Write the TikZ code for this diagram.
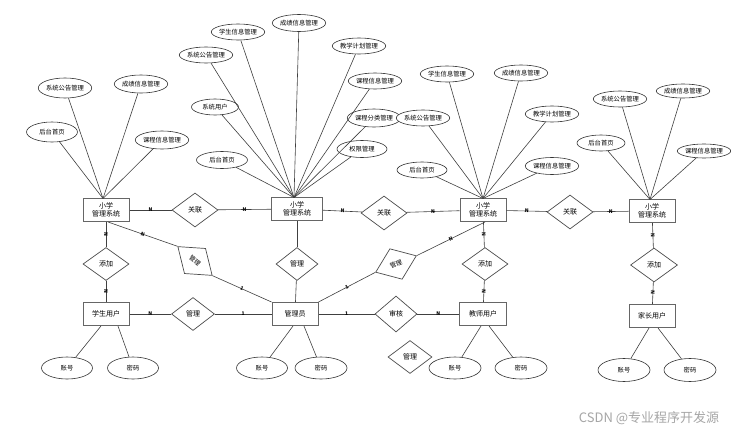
\documentclass[tikz,border=0pt]{standalone}
\usepackage{fontspec}
\setmainfont{Noto Sans CJK SC}
\usetikzlibrary{shapes.geometric,calc}
\begin{document}
\begin{tikzpicture}[x=1pt,y=-1pt,
 ent/.style={draw=black!60,line width=1pt,fill=white,minimum width=46pt,minimum height=23pt,inner sep=0pt,align=center,font=\fontsize{7}{8.5}\selectfont},
 rel/.style={diamond,draw=black!70,line width=0.7pt,fill=white,minimum width=44pt,minimum height=34pt,inner sep=0pt,font=\fontsize{7}{8}\selectfont},
 attr/.style={ellipse,draw=black!80,line width=0.6pt,fill=white,minimum width=48pt,minimum height=16pt,inner sep=0pt,font=\fontsize{6.3}{7}\selectfont},
 bigattr/.style={attr,minimum width=51pt,minimum height=20pt},
 ln/.style={draw=black!75,line width=0.6pt},
 card/.style={font=\fontsize{5}{5}\selectfont\bfseries,inner sep=0.3pt,sloped},
]
\fill[white] (0,0) rectangle (731,431);
\useasboundingbox (0,0) rectangle (731,431);

% entities
\node[ent] (S1) at (106,210) {小学\\管理系统};
\node[ent,minimum width=51pt] (S2) at (297,209) {小学\\管理系统};
\node[ent] (S3) at (483,210) {小学\\管理系统};
\node[ent] (S4) at (652,211) {小学\\管理系统};
\node[ent] (U1) at (106,314) {学生用户};
\node[ent] (AD) at (295,314) {管理员};
\node[ent,minimum width=47pt] (TU) at (483,314) {教师用户};
\node[ent] (PU) at (652,316) {家长用户};

% relations
\node[rel,minimum width=46pt] (R1) at (195,210) {关联};
\node[rel,minimum width=46pt] (R2) at (384,213) {关联};
\node[rel,minimum width=46pt] (R3) at (570,212) {关联};
\node[rel,minimum width=46pt,minimum height=33pt] (ADD1) at (106,264) {添加};
\node[rel,minimum width=42pt,minimum height=33pt] (M2) at (297,264) {管理};
\node[rel,minimum width=46pt,minimum height=33pt] (ADD2) at (485,264) {添加};
\node[rel,minimum width=47pt,minimum height=34pt] (ADD3) at (654,265) {添加};
\node[rel,minimum width=43pt,minimum height=33pt] (M1) at (193,314) {管理};
\node[rel,minimum width=42pt,minimum height=36pt] (SH) at (396,314) {审核};
\node[rel,minimum width=44pt,minimum height=33pt] (ML) at (410,357) {管理};
\node[rel,minimum width=45pt,minimum height=33pt,rotate=-40,font=\fontsize{6.3}{7}\selectfont] (RT1) at (195,261) {管理};
\node[rel,minimum width=44pt,minimum height=33pt,rotate=22,font=\fontsize{6.3}{7}\selectfont] (RT2) at (396,264) {管理};

% relation connectors
\draw[ln] (S1) -- node[card]{N} (R1);
\draw[ln] (R1) -- node[card]{N} (S2);
\draw[ln] (S2) -- node[card]{N} (R2);
\draw[ln] (R2) -- node[card]{N} (S3);
\draw[ln] (S3) -- node[card]{N} (R3);
\draw[ln] (R3) -- node[card]{N} (S4);
\draw[ln] (S1) -- node[card]{N} (ADD1);
\draw[ln] (ADD1) -- node[card]{N} (U1);
\draw[ln] (S2) -- (M2);
\draw[ln] (M2) -- (AD);
\draw[ln] (S3) -- node[card]{N} (ADD2);
\draw[ln] (ADD2) -- node[card]{N} (TU);
\draw[ln] (S4) -- node[card]{N} (ADD3);
\draw[ln] (ADD3) -- node[card]{N} (PU);
\draw[ln] (U1) -- node[card]{N} (M1);
\draw[ln] (M1) -- node[card]{1} (AD);
\draw[ln] (AD) -- node[card]{1} (SH);
\draw[ln] (SH) -- node[card]{N} (TU);
\draw[ln] ($(S1.south)+(2,0)$) -- node[card]{N} (RT1.west);
\draw[ln] (RT1.east) -- node[card]{1} (AD.north west);
\draw[ln] (AD.north east) -- node[card]{1} (RT2.west);
\draw[ln] (RT2.east) -- node[card]{N} ($(S3.south)+(2,0)$);

% attribute fan targets
\coordinate (F1) at (103,198.5);
\coordinate (F2) at (294,197.5);
\coordinate (F3) at (483,198.5);
\coordinate (F4) at (650,199.5);

% S1 attributes
\node[bigattr] (a11) at (52,132) {后台首页};
\node[bigattr] (a12) at (65,88) {系统公告管理};
\node[attr,minimum width=50pt,minimum height=18pt] (a13) at (141,84) {成绩信息管理};
\node[attr,minimum width=50pt,minimum height=18pt] (a14) at (162,140) {课程信息管理};
\foreach \n in {a11,a12,a13,a14} \draw[ln] (\n) -- (F1);

% S2 attributes
\node[attr,minimum width=46pt] (a21) at (238,32) {学生信息管理};
\node[attr,minimum width=48pt,minimum height=17pt] (a22) at (299,23) {成绩信息管理};
\node[attr,minimum width=46pt] (a23) at (206,55) {系统公告管理};
\node[attr,minimum width=46pt] (a24) at (359,46) {教学计划管理};
\node[attr,minimum width=50pt] (a25) at (375,81) {课程信息管理};
\node[attr,minimum width=47pt] (a26) at (215,107) {系统用户};
\node[attr,minimum width=49pt,minimum height=18pt] (a27) at (374,118) {课程分类管理};
\node[attr,minimum width=50pt,minimum height=17pt] (a28) at (362,149) {权限管理};
\node[attr,minimum width=51pt,minimum height=17pt] (a29) at (222,160) {后台首页};
\foreach \n in {a21,a22,a23,a24,a25,a26,a27,a28,a29} \draw[ln] (\n) -- (F2);

% S3 attributes
\node[attr,minimum width=50pt] (a31) at (447,74) {学生信息管理};
\node[attr,minimum width=48pt] (a32) at (521,73) {成绩信息管理};
\node[attr,minimum width=50pt] (a33) at (423,118) {系统公告管理};
\node[attr,minimum width=49pt] (a34) at (552,114) {教学计划管理};
\node[attr,minimum width=50pt] (a35) at (422,170) {后台首页};
\node[attr,minimum width=49pt,minimum height=17pt] (a36) at (552,166) {课程信息管理};
\foreach \n in {a31,a32,a33,a34,a35,a36} \draw[ln] (\n) -- (F3);

% S4 attributes
\node[attr,minimum width=50pt] (a41) at (620,99) {系统公告管理};
\node[attr,minimum width=48pt,minimum height=14pt] (a42) at (683,91) {成绩信息管理};
\node[attr,minimum width=48pt] (a43) at (601,143) {后台首页};
\node[attr,minimum width=50pt,minimum height=14pt] (a44) at (704,151) {课程信息管理};
\foreach \n in {a41,a42,a43,a44} \draw[ln] (\n) -- (F4);

% user attributes
\node[attr,minimum width=51pt,minimum height=22pt] (u1a) at (67,368) {账号};
\node[attr,minimum width=51pt,minimum height=22pt] (u1b) at (133,368) {密码};
\node[attr,minimum width=51pt,minimum height=22pt] (ada) at (262,368) {账号};
\node[attr,minimum width=52pt,minimum height=22pt] (adb) at (321,368) {密码};
\node[attr,minimum width=52pt,minimum height=22pt] (tua) at (455,368) {账号};
\node[attr,minimum width=52pt,minimum height=22pt] (tub) at (521,368) {密码};
\node[attr,minimum width=52pt,minimum height=23pt] (pua) at (624,370) {账号};
\node[attr,minimum width=52pt,minimum height=23pt] (pub) at (690,370) {密码};
\draw[ln] ($(U1.south)+(-5,0)$) -- (u1a);
\draw[ln] ($(U1.south)+(12,0)$) -- (u1b);
\draw[ln] ($(AD.south)+(-2,0)$) -- (ada);
\draw[ln] ($(AD.south)+(9,0)$) -- (adb);
\draw[ln] ($(TU.south)+(-2,0)$) -- (tua);
\draw[ln] ($(TU.south)+(6,0)$) -- (tub);
\draw[ln] ($(PU.south)+(-3,0)$) -- (pua);
\draw[ln] ($(PU.south)+(6,0)$) -- (pub);

% watermark
\node[font=\fontsize{13}{13}\selectfont,text=black!35,inner sep=0pt] (wm) at (649,418) {CSDN @专业程序开发源};
\end{tikzpicture}
\end{document}
